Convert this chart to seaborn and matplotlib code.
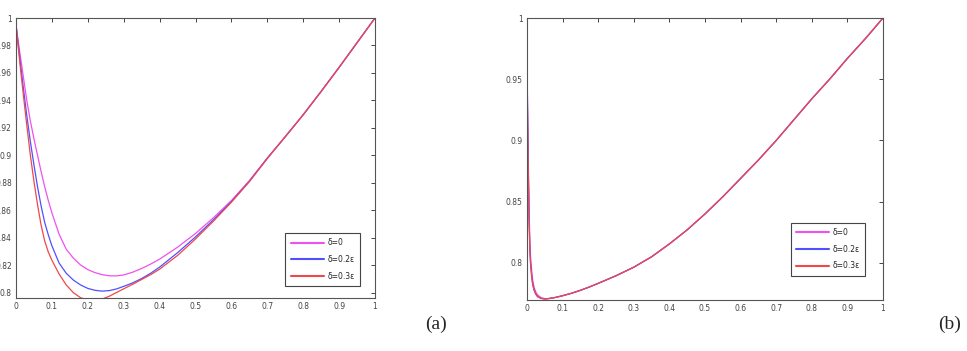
import numpy as np
import pandas as pd
import matplotlib
matplotlib.use("Agg")
import matplotlib.pyplot as plt
import seaborn as sns

# panel (a) values
xa = [0, 0.01, 0.02, 0.03, 0.04, 0.05, 0.06, 0.07, 0.08, 0.09, 0.1, 0.12, 0.14,
      0.16, 0.18, 0.2, 0.22, 0.24, 0.26, 0.28, 0.3, 0.325, 0.35, 0.375, 0.4,
      0.45, 0.5, 0.55, 0.6, 0.65, 0.7, 0.75, 0.8, 0.85, 0.9, 0.95, 1.0]
ya_d0 = [0.995, 0.976, 0.958, 0.940, 0.925, 0.912, 0.900, 0.888, 0.877, 0.867,
         0.858, 0.8425, 0.8315, 0.8250, 0.8200, 0.8167, 0.8145, 0.8130, 0.8122,
         0.8121, 0.8128, 0.8148, 0.8175, 0.8207, 0.8243, 0.8330, 0.8430, 0.8545,
         0.8670, 0.8815, 0.8980, 0.9135, 0.9295, 0.9465, 0.9640, 0.9820, 1.0]
ya_d2 = [0.995, 0.972, 0.950, 0.929, 0.910, 0.893, 0.877, 0.863, 0.851, 0.842,
         0.834, 0.8215, 0.8140, 0.8090, 0.8055, 0.8030, 0.8016, 0.8010, 0.8014,
         0.8026, 0.8045, 0.807, 0.8102, 0.8140, 0.8185, 0.8290, 0.8405, 0.8530,
         0.8662, 0.8810, 0.8978, 0.9135, 0.9295, 0.9465, 0.9640, 0.9820, 1.0]
ya_d3 = [0.995, 0.969, 0.945, 0.922, 0.900, 0.881, 0.864, 0.849, 0.8375, 0.8295,
         0.8235, 0.8135, 0.8055, 0.7998, 0.7962, 0.7945, 0.7942, 0.7952, 0.7973,
         0.800, 0.8027, 0.806, 0.8095, 0.813, 0.817, 0.827, 0.839, 0.852,
         0.8658, 0.8808, 0.8976, 0.9135, 0.9295, 0.9465, 0.9640, 0.9820, 1.0]

# panel (b) values
xb = [0, 0.002, 0.004, 0.006, 0.008, 0.01, 0.013, 0.016, 0.02, 0.025, 0.03,
      0.04, 0.05, 0.06, 0.08, 0.1, 0.125, 0.15, 0.175, 0.2, 0.25, 0.3, 0.35,
      0.4, 0.45, 0.5, 0.55, 0.6, 0.65, 0.7, 0.75, 0.8, 0.85, 0.9, 0.95, 1.0]
yb_tail = [0.7833, 0.7895, 0.7965, 0.805, 0.8155, 0.827, 0.840, 0.854, 0.869,
           0.884, 0.900, 0.917, 0.934, 0.950, 0.967, 0.983, 1.0]
yb_d0 = [0.963, 0.918, 0.875, 0.841, 0.818, 0.805, 0.794, 0.786, 0.780, 0.776,
         0.7738, 0.7716, 0.7708, 0.7709, 0.7718, 0.7732, 0.7752, 0.7776,
         0.7803] + yb_tail
yb_d2 = [0.965, 0.915, 0.870, 0.835, 0.812, 0.800, 0.790, 0.783, 0.778, 0.7745,
         0.7725, 0.7710, 0.7706, 0.7708, 0.7718, 0.7732, 0.7752, 0.7776,
         0.7803] + yb_tail
yb_d3 = [0.955, 0.910, 0.867, 0.833, 0.811, 0.799, 0.789, 0.782, 0.7775, 0.7742,
         0.7723, 0.7709, 0.7705, 0.7708, 0.7718, 0.7732, 0.7752, 0.7776,
         0.7803] + yb_tail

labels = ["δ=0", "δ=0.2ε", "δ=0.3ε"]
colors = ["#f050f0", "#5050ff", "#f04848"]

def long_form(x, ys):
    frames = []
    for lab, y in zip(labels, ys):
        frames.append(pd.DataFrame({"x": x, "y": y, "delta": lab}))
    return pd.concat(frames, ignore_index=True)

dfa = long_form(xa, [ya_d0, ya_d2, ya_d3])
dfb = long_form(xb, [yb_d0, yb_d2, yb_d3])

sns.set_style("white")
plt.rcParams["font.family"] = ["DejaVu Sans"]

fig = plt.figure(figsize=(9.67, 3.51), dpi=100)
ax1 = fig.add_axes([16 / 967, 1 - 298 / 351, 359 / 967, 280 / 351])
ax2 = fig.add_axes([527 / 967, 1 - 300 / 351, 356 / 967, 282 / 351])

def style_axes(ax, ylim, yticks, ylabels):
    ax.set_xlim(0, 1)
    ax.set_ylim(*ylim)
    ax.set_xticks(np.arange(0, 1.01, 0.1))
    ax.set_xticklabels(["0", "0.1", "0.2", "0.3", "0.4", "0.5", "0.6", "0.7", "0.8", "0.9", "1"])
    ax.set_yticks(yticks)
    ax.set_yticklabels(ylabels)
    ax.tick_params(direction="in", length=3, width=0.7, labelsize=5.5,
                   colors="#444444", top=True, right=True, pad=3)
    for s in ax.spines.values():
        s.set_color("#555555")
        s.set_linewidth(0.8)
    ax.set_xlabel("")
    ax.set_ylabel("")

sns.lineplot(data=dfa, x="x", y="y", hue="delta", palette=colors, estimator=None,
             sort=False, linewidth=0.9, ax=ax1)
style_axes(ax1, (0.796, 1.0), [0.8, 0.82, 0.84, 0.86, 0.88, 0.9, 0.92, 0.94, 0.96, 0.98, 1.0],
           ["0.8", "0.82", "0.84", "0.86", "0.88", "0.9", "0.92", "0.94", "0.96", "0.98", "1"])

sns.lineplot(data=dfb, x="x", y="y", hue="delta", palette=colors, estimator=None,
             sort=False, linewidth=0.9, ax=ax2)
style_axes(ax2, (0.7697, 1.0), [0.8, 0.85, 0.9, 0.95, 1.0],
           ["0.8", "0.85", "0.9", "0.95", "1"])

for ax, anchor in [(ax1, (0.969, 0.029)), (ax2, (0.961, 0.073))]:
    leg = ax.legend(loc="lower right", bbox_to_anchor=anchor, fontsize=5.5,
                    handlelength=4.3, labelspacing=1.0, borderpad=0.7,
                    handletextpad=0.5, fancybox=False, framealpha=1)
    leg.get_frame().set_edgecolor("#444444")
    leg.get_frame().set_linewidth(0.8)
    for line in leg.get_lines():
        line.set_linewidth(1.5)

fig.text(436 / 967, 1 - 324 / 351, "(a)", ha="center", va="center",
         fontsize=14, family="Liberation Serif")
fig.text(950 / 967, 1 - 324 / 351, "(b)", ha="center", va="center",
         fontsize=14, family="Liberation Serif")

fig.savefig("out.png", dpi=100)
